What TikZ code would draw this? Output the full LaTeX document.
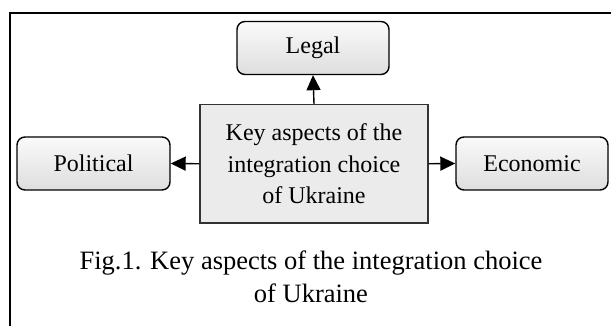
\documentclass[tikz,border=0pt]{standalone}
\usepackage{fontspec}
\setmainfont{Liberation Serif}
\usetikzlibrary{arrows.meta,shapes.misc}
\tikzset{
  aspect/.style={draw=black, line width=1.4pt, rounded corners=8pt, minimum width=152pt, minimum height=53pt,
    top color=black!2, bottom color=black!13, font=\fontsize{24}{30}\selectfont, inner sep=0pt},
  core/.style={draw=black!80, line width=1.2pt, fill=black!8, minimum width=228pt, minimum height=118.5pt,
    align=center, font=\fontsize{24}{31.7}\selectfont, inner sep=0pt},
  link/.style={line width=1.4pt, -{Triangle[length=15pt,width=14pt]}},
  frameline/.style={line width=1.8pt}
}
\begin{document}
\begin{tikzpicture}[x=1pt,y=-1pt]
\useasboundingbox (0,0) rectangle (611,326);
\coordinate (ftr) at (611,13);
\coordinate (ftl) at (10,13);
\coordinate (fbl) at (10,326);
\draw[frameline] (ftr) -- (ftl) -- (fbl);
\node[aspect] (legal) at (313,48) {Legal};
\node[core] (key) at (314,163.75) {Key aspects of the\\integration choice\\of Ukraine};
\node[aspect, minimum width=153pt] (pol) at (93.5,163.5) {Political};
\node[aspect] (eco) at (532,163.5) {Economic};
\draw[link] (key.north) -- (legal.south);
\draw[link] (key.west) -- (pol.east);
\draw[link] (key.east) -- (eco.west);
\node[align=center, font=\fontsize{26.5}{33}\selectfont, inner sep=0pt] (cap) at (311,276.5)
  {Fig.1. Key aspects of the integration choice\\of Ukraine};
\end{tikzpicture}
\end{document}
